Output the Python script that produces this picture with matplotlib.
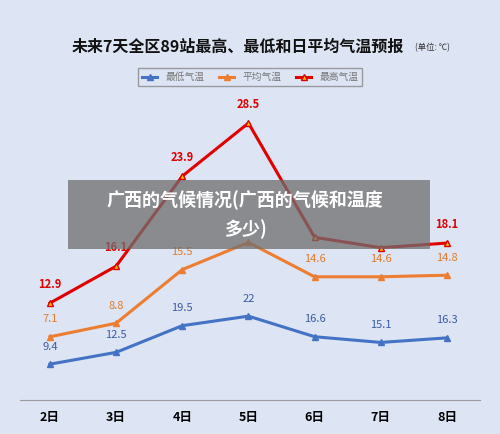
import matplotlib.pyplot as plt
from matplotlib.patches import Rectangle

plt.rcParams['font.family'] = ['Noto Sans CJK SC', 'DejaVu Sans']

days = [2, 3, 4, 5, 6, 7, 8]
day_labels = ["2日", "3日", "4日", "5日", "6日", "7日", "8日"]
low = [9.4, 12.5, 19.5, 22, 16.6, 15.1, 16.3]
avg = [7.1, 8.8, 15.5, 18.9, 14.6, 14.6, 14.8]
high = [12.9, 16.1, 23.9, 28.5, 18.6, 17.7, 18.1]

bg = "#dde4f3"
fig = plt.figure(figsize=(5, 4.34), dpi=100, facecolor=bg)

pos = [20 / 500, 34 / 434, 460 / 500, 300 / 434]
series = [
    (low, "#4472c4", (0.0, 78.7), "最低气温", "#3b5ba5", ()),
    (avg, "#ed7d31", (-0.8, 36.7), "平均气温", "#e07b2a", (5,)),
    (high, "#e00000", (4.5, 30.5), "最高气温", "#e00000", (6, 7)),
]
handles = []
for i, (vals, col, lim, name, tcol, hidden) in enumerate(series):
    ax = fig.add_axes(pos, label=name)
    ax.set_facecolor("none")
    ax.set_xlim(1.547, 8.5)
    ax.set_ylim(*lim)
    h, = ax.plot(days, vals, color=col, lw=2.2, marker="^", ms=4,
                 mfc="#f0c000" if i == 2 else col, mec=col, label=name)
    handles.append(h)
    for d, v in zip(days, vals):
        if d in hidden:
            continue
        ax.annotate(f"{v:g}", (d, v), xytext=(0, 9), textcoords="offset points",
                    ha="center", va="bottom", fontsize=8, color=tcol,
                    fontweight="bold" if i == 2 else "normal")
    ax.set_yticks([])
    for s in ax.spines.values():
        s.set_visible(False)
    if i == 0:
        ax.spines["bottom"].set_visible(True)
        ax.spines["bottom"].set_color("#999999")
        ax.set_xticks(days)
        ax.set_xticklabels(day_labels, fontsize=9, fontweight="bold")
        ax.tick_params(axis="x", length=0, pad=8)
    else:
        ax.set_xticks([])

fig.text(0.475, 0.893, "未来7天全区89站最高、最低和日平均气温预报", ha="center",
         va="center", fontsize=11.5, fontweight="bold", color="#111111")
fig.text(0.865, 0.891, "(单位: ℃)", ha="center", va="center", fontsize=6, color="#333333")
fig.legend(handles=handles, loc="center", bbox_to_anchor=(0.5, 0.822), ncol=3,
           fontsize=7, frameon=True, edgecolor="#888888", fancybox=False,
           handlelength=1.6, columnspacing=1.5, labelcolor="#777777").get_frame().set_facecolor(bg)

fig.patches.append(Rectangle((68 / 500, 1 - 249 / 434), 362 / 500, 69 / 434,
                             transform=fig.transFigure, facecolor="#6e6e6e",
                             alpha=0.75, zorder=10))
fig.text(0.49, 1 - 200 / 434, "广西的气候情况(广西的气候和温度", ha="center", va="center",
         fontsize=13, fontweight="bold", color="white", zorder=11)
fig.text(0.49, 1 - 229 / 434, "多少)", ha="center", va="center",
         fontsize=13, fontweight="bold", color="white", zorder=11)

fig.savefig("out.png", dpi=100, facecolor=bg)
